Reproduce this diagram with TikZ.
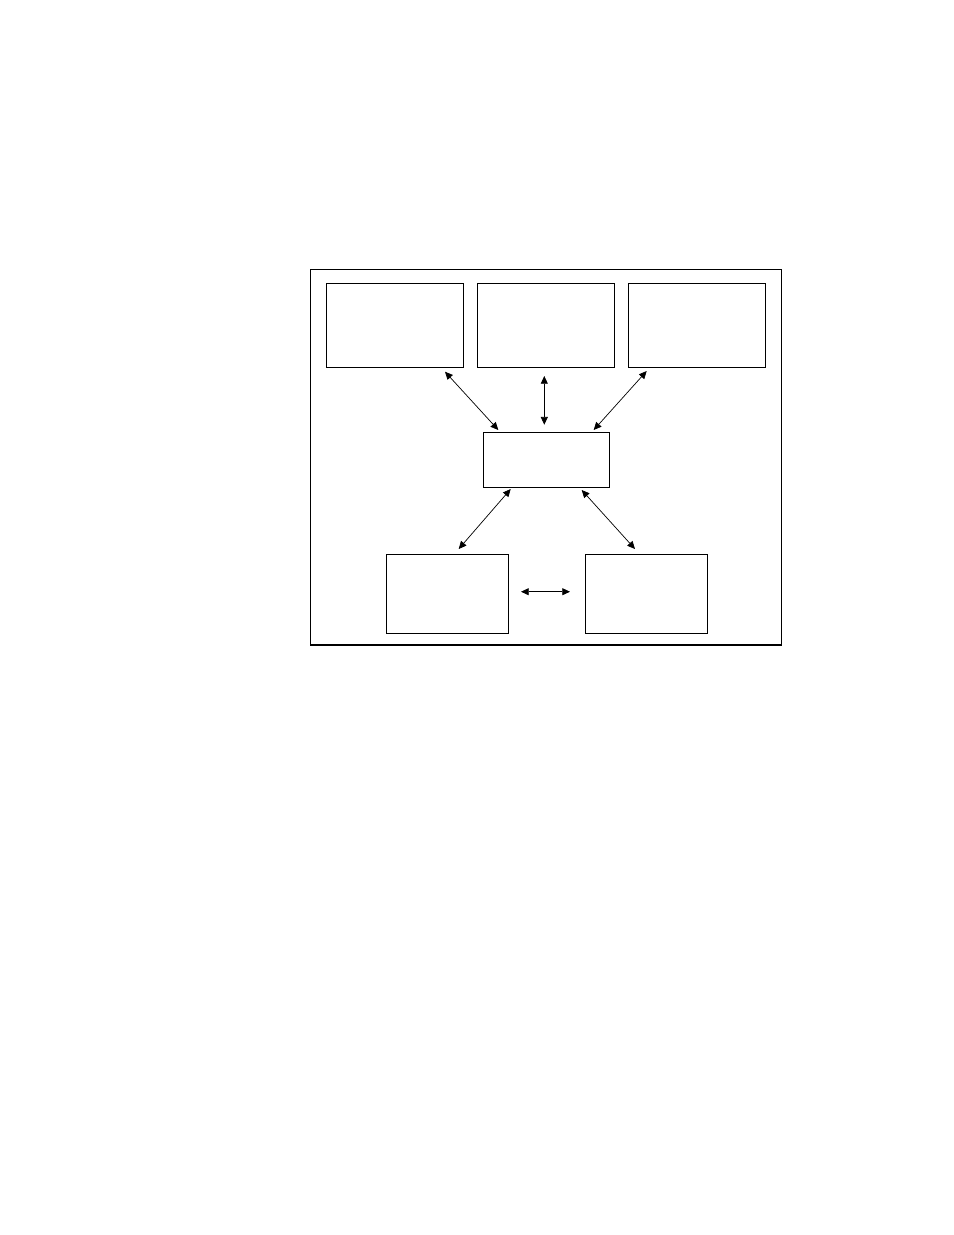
\documentclass[tikz,border=0pt]{standalone}
\usepackage{tikz}
\usetikzlibrary{arrows.meta}
\usetikzlibrary{shapes.geometric,calc}
\begin{document}
\begin{tikzpicture}[x=0.02cm,y=-0.02cm,
	blk/.style={draw,rectangle,line width=0.6pt,inner sep=0pt},
	lnk/.style={{Triangle[length=4.4pt,width=4pt]}-{Triangle[length=4.4pt,width=4pt]},line width=0.4pt}]
	\useasboundingbox (0,0) rectangle (954,1235);
	
	\node[blk,minimum width=9.43cm,minimum height=7.52cm] (frame) at (545.75,457) {};
	
	\node[blk,minimum width=2.748cm,minimum height=1.68cm] (topL) at (395,325.3) {};
	\node[blk,minimum width=2.748cm,minimum height=1.68cm] (topM) at (546,325.3) {};
	\node[blk,minimum width=2.748cm,minimum height=1.68cm] (topR) at (697,325.3) {};
	\node[blk,minimum width=2.52cm,minimum height=1.108cm] (hub) at (546.3,460) {};
	\node[blk,minimum width=2.448cm,minimum height=1.594cm] (botL) at (447.5,593.9) {};
	\node[blk,minimum width=2.448cm,minimum height=1.594cm] (botR) at (646.5,593.9) {};
	
	\coordinate (a1) at (445,371.7); \coordinate (b1) at (498.3,430);
	\coordinate (a2) at (544.3,376); \coordinate (b2) at (544.3,424.7);
	\coordinate (a3) at (646.7,371); \coordinate (b3) at (593.7,430);
	\coordinate (a4) at (510.7,489); \coordinate (b4) at (458.7,549);
	\coordinate (a5) at (581.7,490); \coordinate (b5) at (635,549);
	\coordinate (a6) at (521,591.7); \coordinate (b6) at (570,591.7);
	
	\draw[lnk] (a1) -- (b1);
	\draw[lnk] (a2) -- (b2);
	\draw[lnk] (a3) -- (b3);
	\draw[lnk] (a4) -- (b4);
	\draw[lnk] (a5) -- (b5);
	\draw[lnk] (a6) -- (b6);
\end{tikzpicture}
\end{document}
